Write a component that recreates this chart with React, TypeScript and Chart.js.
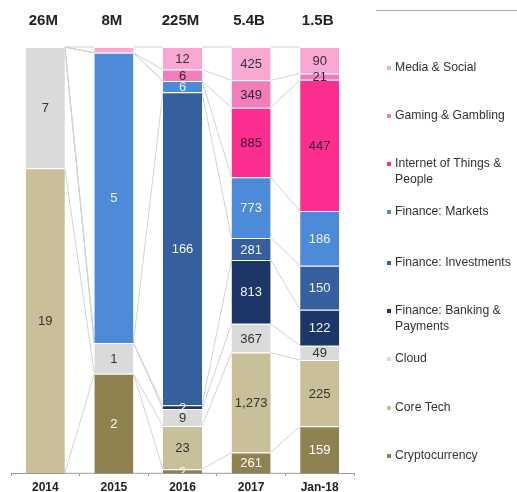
import React, { useEffect, useRef } from "react";
import { Chart, registerables } from "chart.js";

Chart.register(...registerables);

// Categories and headline totals
const categories = ["2014", "2015", "2016", "2017", "Jan-18"];
const totalLabels = ["26M", "8M", "225M", "5.4B", "1.5B"];

// Series values ($M), bottom of stack to top
const cryptocurrency = [0, 1.86, 2, 261, 159];
const coreTech = [18.6, 0, 23, 1273, 225];
const cloud = [7.4, 0.58, 9, 367, 49];
const financeBanking = [0, 0, 2, 813, 122];
const financeInvestments = [0, 0, 166, 281, 150];
const financeMarkets = [0, 5.44, 6, 773, 186];
const internetOfThings = [0, 0, 0, 885, 447];
const gamingGambling = [0, 0, 6, 349, 21];
const mediaSocial = [0, 0.11, 12, 425, 90];

const seriesNames = [
  "Cryptocurrency",
  "Core Tech",
  "Cloud",
  "Finance: Banking & Payments",
  "Finance: Investments",
  "Finance: Markets",
  "Internet of Things & People",
  "Gaming & Gambling",
  "Media & Social",
];
const seriesValues = [
  cryptocurrency,
  coreTech,
  cloud,
  financeBanking,
  financeInvestments,
  financeMarkets,
  internetOfThings,
  gamingGambling,
  mediaSocial,
];
const seriesColors = [
  "#8E8350",
  "#C9BF98",
  "#DADADA",
  "#1C3667",
  "#365F9D",
  "#4D8BD8",
  "#FB2E8F",
  "#F27DBB",
  "#F8A8D2",
];
const labelColors = [
  "#FFFFFF",
  "#333333",
  "#333333",
  "#F2F4F8",
  "#F2F4F8",
  "#EEF3FA",
  "#3A1A2C",
  "#3A2030",
  "#333333",
];

// Legend (top to bottom), with text lines
const legendLines = [
  ["Media & Social"],
  ["Gaming & Gambling"],
  ["Internet of Things &", "People"],
  ["Finance: Markets"],
  ["Finance: Investments"],
  ["Finance: Banking &", "Payments"],
  ["Cloud"],
  ["Core Tech"],
  ["Cryptocurrency"],
];
const legendSeriesIndex = [8, 7, 6, 5, 4, 3, 2, 1, 0];
const legendRowY = [68, 116, 164, 212, 263, 311, 359, 408, 456];

const BAR_PCT = 0.57;

const columnTotals = categories.map((_, i) =>
  seriesValues.reduce((s, arr) => s + arr[i], 0)
);
const seriesPct = seriesValues.map((arr) =>
  arr.map((v, i) => (v > 0 ? (v / columnTotals[i]) * 100 : null))
);

const connectorPlugin = {
  id: "connectors",
  beforeDatasetsDraw(chart: any) {
    const { ctx, scales } = chart;
    const xs = scales.x;
    const ys = scales.y;
    const hw = ((xs.getPixelForValue(1) - xs.getPixelForValue(0)) * BAR_PCT) / 2;
    const cum = categories.map((_, i) => {
      const out = [0];
      let s = 0;
      seriesPct.forEach((arr) => {
        s += arr[i] || 0;
        out.push(s);
      });
      return out;
    });
    ctx.save();
    ctx.strokeStyle = "#D2D2D2";
    ctx.lineWidth = 1;
    for (let i = 0; i < categories.length - 1; i++) {
      const x1 = xs.getPixelForValue(i) + hw;
      const x2 = xs.getPixelForValue(i + 1) - hw;
      for (let k = 0; k < cum[i].length; k++) {
        ctx.beginPath();
        ctx.moveTo(x1, ys.getPixelForValue(cum[i][k]));
        ctx.lineTo(x2, ys.getPixelForValue(cum[i + 1][k]));
        ctx.stroke();
      }
    }
    ctx.restore();
  },
};

const labelPlugin = {
  id: "segLabels",
  afterDatasetsDraw(chart: any) {
    const { ctx, chartArea } = chart;
    ctx.save();
    ctx.beginPath();
    ctx.rect(chartArea.left, chartArea.top, chartArea.right - chartArea.left, chartArea.bottom - chartArea.top);
    ctx.clip();
    ctx.font = "13px 'Liberation Sans', Arial, sans-serif";
    ctx.textAlign = "center";
    ctx.textBaseline = "middle";
    seriesValues.forEach((arr, d) => {
      const meta = chart.getDatasetMeta(d);
      arr.forEach((v, i) => {
        const r = Math.round(v);
        if (r <= 0) return;
        const el: any = meta.data[i];
        if (!el) return;
        const y = (el.y + el.base) / 2;
        ctx.fillStyle = labelColors[d];
        ctx.fillText(r.toLocaleString("en-US"), el.x, y + 1);
      });
    });
    ctx.restore();

    // headline totals
    const xs = chart.scales.x;
    ctx.save();
    ctx.font = "bold 15px 'Liberation Sans', Arial, sans-serif";
    ctx.fillStyle = "#222222";
    ctx.textAlign = "center";
    ctx.textBaseline = "middle";
    totalLabels.forEach((t, i) => {
      ctx.fillText(t, xs.getPixelForValue(i) - 2, 21);
    });
    ctx.restore();
  },
};

const legendPlugin = {
  id: "sideLegend",
  afterDraw(chart: any) {
    const { ctx } = chart;
    ctx.save();
    ctx.strokeStyle = "#AAAAAA";
    ctx.lineWidth = 1;
    ctx.beginPath();
    ctx.moveTo(376, 10.5);
    ctx.lineTo(517, 10.5);
    ctx.stroke();
    ctx.font = "12.2px 'Liberation Sans', Arial, sans-serif";
    ctx.textBaseline = "middle";
    ctx.textAlign = "left";
    legendLines.forEach((lines, r) => {
      const y = legendRowY[r];
      ctx.fillStyle = seriesColors[legendSeriesIndex[r]];
      ctx.fillRect(387, y - 2, 4, 4);
      ctx.fillStyle = "#333333";
      lines.forEach((ln, j) => {
        ctx.fillText(ln, 395, y + j * 16);
      });
    });
    ctx.restore();
  },
};

export default function App() {
  const ref = useRef<HTMLCanvasElement | null>(null);
  useEffect(() => {
    if (!ref.current) return;
    const chart = new Chart(ref.current, {
      type: "bar",
      data: {
        labels: categories,
        datasets: seriesNames.map((name, d) => ({
          label: name,
          data: seriesPct[d] as any,
          backgroundColor: seriesColors[d],
          borderColor: "#FFFFFF",
          borderWidth: { top: 1, left: 0, right: 0, bottom: 0 } as any,
          borderSkipped: false as any,
          barPercentage: BAR_PCT,
          categoryPercentage: 1,
        })),
      },
      options: {
        animation: false,
        responsive: false,
        maintainAspectRatio: false,
        layout: { padding: { left: 11, right: 163, top: 47, bottom: 0 } },
        plugins: {
          legend: { display: false },
          tooltip: { enabled: false },
        },
        scales: {
          x: {
            stacked: true,
            offset: true,
            grid: {
              display: true,
              drawOnChartArea: false,
              drawTicks: true,
              tickLength: 3,
              offset: true,
              color: "#999999",
            },
            border: { display: true, color: "#999999" },
            ticks: {
              color: "#222222",
              padding: 4,
              font: { family: "'Liberation Sans', Arial, sans-serif", size: 12, weight: "bold" },
            },
            afterFit: (scale: any) => {
              scale.height = 19;
            },
          },
          y: {
            stacked: true,
            display: false,
            min: 0,
            max: 100,
          },
        },
      },
      plugins: [connectorPlugin, labelPlugin, legendPlugin],
    });
    return () => chart.destroy();
  }, []);
  return (
    <div style={{ position: "absolute", left: 0, top: 0, width: 517, height: 492, background: "#fff" }}>
      <canvas ref={ref} width={517} height={492} style={{ width: 517, height: 492 }} />
    </div>
  );
}
